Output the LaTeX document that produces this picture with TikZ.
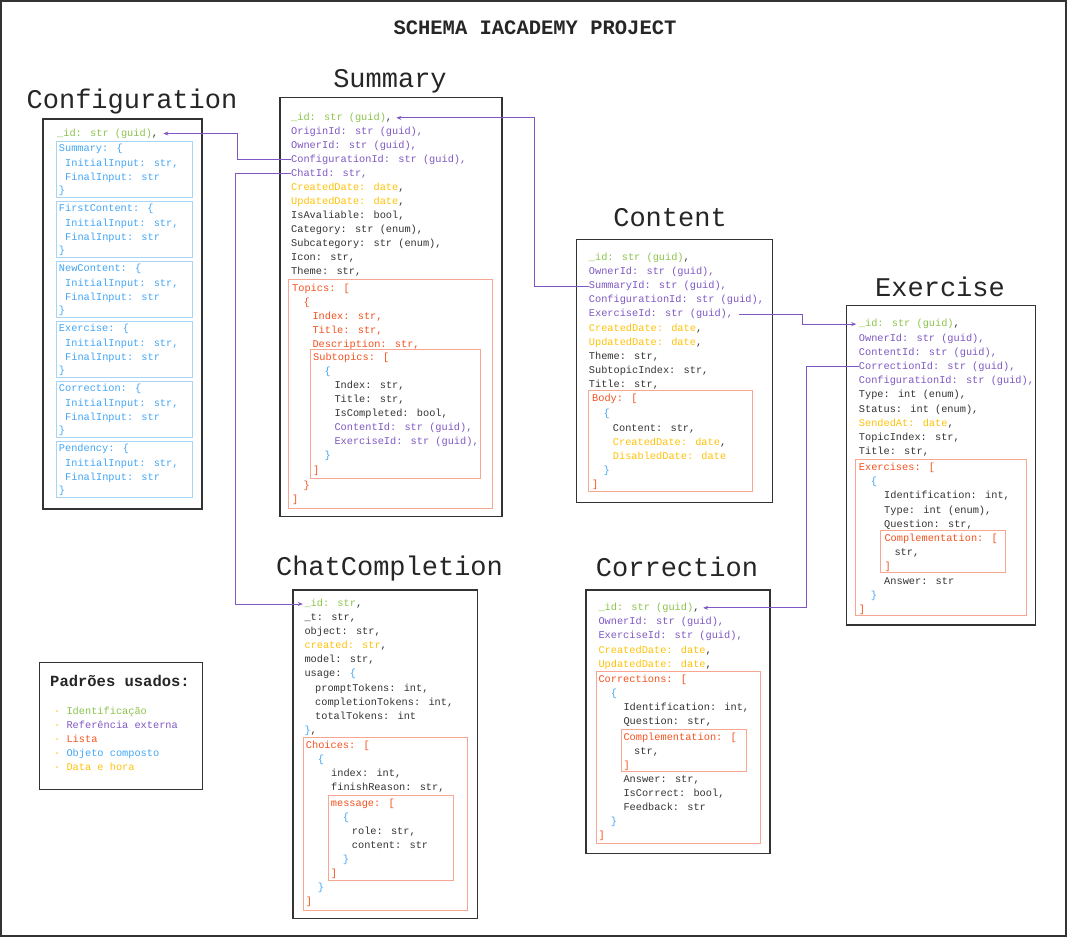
\documentclass[tikz,border=0pt]{standalone}
\usepackage{fontspec}
\newfontfamily\codefont{Liberation Mono}
\usetikzlibrary{arrows.meta}

\definecolor{idgreen}{HTML}{8BC34A}
\definecolor{refpurple}{HTML}{7E57C2}
\definecolor{lstred}{HTML}{F4511E}
\definecolor{lstbox}{HTML}{F8A592}
\definecolor{objblue}{HTML}{42A5F5}
\definecolor{objbox}{HTML}{A8D4F5}
\definecolor{dtyellow}{HTML}{FFC107}
\definecolor{txtgrey}{HTML}{333333}
\definecolor{framegrey}{HTML}{333333}

\newcommand{\gid}[1]{\textcolor{idgreen}{#1}}
\newcommand{\ydate}[1]{\textcolor{dtyellow}{#1}}
\newcommand{\bobj}[1]{\textcolor{objblue}{#1}}

\tikzset{
  fld/.style={anchor=base west, inner sep=0pt, yshift=-3.5pt, text=txtgrey,
    font=\codefont\fontsize{10.3}{14}\selectfont},
  ref/.style={fld, text=refpurple},
  lst/.style={fld, text=lstred},
  obj/.style={fld, text=objblue},
  ttl/.style={anchor=base, inner sep=0pt, text=black!85,
    font=\codefont\fontsize{27}{30}\selectfont},
  entity/.style={draw=framegrey, line width=1.1pt},
  lstframe/.style={draw=lstbox, line width=0.9pt},
  objframe/.style={draw=objbox, line width=0.9pt},
  refline/.style={draw=refpurple, line width=0.7pt, -{Stealth[length=5pt,width=4pt]}},
}

\begin{document}
\begin{tikzpicture}[x=1pt,y=-1pt]
  \useasboundingbox (0,0) rectangle (1067,937);
  \draw[entity] (1,1) rectangle (1066,936);
  \node[anchor=base, inner sep=0pt, text=black!85,
    font=\codefont\bfseries\fontsize{20.5}{24}\selectfont] (header) at (535,34) {SCHEMA IACADEMY PROJECT};

  % Configuration
  \node[ttl] (cfg-title) at (132,108) {Configuration};
  \draw[entity] (43,119) rectangle (202,509);
  \node[fld] (cfg-id) at (57,132.7) {\gid{\_id: str (guid)},};

  \draw[objframe] (56,141.7) rectangle (192.3,197.3);
  \node[obj] (cfg-sum) at (58.7,148) {Summary: \{};
  \node[obj] (cfg-sum-in) at (65,162.5) {InitialInput: str,};
  \node[obj] (cfg-sum-out) at (65,176.5) {FinalInput: str};
  \node[obj] (cfg-sum-cb) at (58.7,190) {\}};

  \draw[objframe] (56,201.7) rectangle (192.3,257.3);
  \node[obj] (cfg-first) at (58.7,208) {FirstContent: \{};
  \node[obj] (cfg-first-in) at (65,222.5) {InitialInput: str,};
  \node[obj] (cfg-first-out) at (65,236.5) {FinalInput: str};
  \node[obj] (cfg-first-cb) at (58.7,250) {\}};

  \draw[objframe] (56,261.7) rectangle (192.3,317.3);
  \node[obj] (cfg-new) at (58.7,268) {NewContent: \{};
  \node[obj] (cfg-new-in) at (65,282.5) {InitialInput: str,};
  \node[obj] (cfg-new-out) at (65,296.5) {FinalInput: str};
  \node[obj] (cfg-new-cb) at (58.7,310) {\}};

  \draw[objframe] (56,321.7) rectangle (192.3,377.3);
  \node[obj] (cfg-exe) at (58.7,328) {Exercise: \{};
  \node[obj] (cfg-exe-in) at (65,342.5) {InitialInput: str,};
  \node[obj] (cfg-exe-out) at (65,356.5) {FinalInput: str};
  \node[obj] (cfg-exe-cb) at (58.7,370) {\}};

  \draw[objframe] (56,381.7) rectangle (192.3,437.3);
  \node[obj] (cfg-cor) at (58.7,388) {Correction: \{};
  \node[obj] (cfg-cor-in) at (65,402.5) {InitialInput: str,};
  \node[obj] (cfg-cor-out) at (65,416.5) {FinalInput: str};
  \node[obj] (cfg-cor-cb) at (58.7,430) {\}};

  \draw[objframe] (56,441.7) rectangle (192.3,497.3);
  \node[obj] (cfg-pend) at (58.7,448) {Pendency: \{};
  \node[obj] (cfg-pend-in) at (65,462.5) {InitialInput: str,};
  \node[obj] (cfg-pend-out) at (65,476.5) {FinalInput: str};
  \node[obj] (cfg-pend-cb) at (58.7,490) {\}};

  % Summary
  \node[ttl] (sum-title) at (390,87) {Summary};
  \draw[entity] (280,97.7) rectangle (502,516.7);
  \node[fld] (sum-id) at (291,117) {\gid{\_id: str (guid)},};
  \node[ref] (sum-origin) at (291,131) {OriginId: str (guid),};
  \node[ref] (sum-owner) at (291,145) {OwnerId: str (guid),};
  \node[ref] (sum-cfg) at (291,159) {ConfigurationId: str (guid),};
  \node[ref] (sum-chat) at (291,173) {ChatId: str,};
  \node[fld] (sum-created) at (291,187) {\ydate{CreatedDate: date},};
  \node[fld] (sum-updated) at (291,201) {\ydate{UpdatedDate: date},};
  \node[fld] (sum-avail) at (291,215) {IsAvaliable: bool,};
  \node[fld] (sum-cat) at (291,229) {Category: str (enum),};
  \node[fld] (sum-subcat) at (291,243) {Subcategory: str (enum),};
  \node[fld] (sum-icon) at (291,257) {Icon: str,};
  \node[fld] (sum-theme) at (291,271) {Theme: str,};
  \draw[lstframe] (288.3,279.3) rectangle (492.7,508);
  \node[lst] (sum-topics) at (292,288.3) {Topics: [};
  \node[lst] (sum-top-ob) at (303.3,301.7) {\{};
  \node[lst] (sum-t-index) at (312.3,316) {Index: str,};
  \node[lst] (sum-t-title) at (312.3,330) {Title: str,};
  \node[lst] (sum-t-desc) at (312.3,344) {Description: str,};
  \draw[lstframe] (310,349.7) rectangle (480,478.3);
  \node[lst] (sum-subtopics) at (313,357.3) {Subtopics: [};
  \node[obj] (sum-sub-ob) at (324.3,371) {\{};
  \node[fld] (sum-s-index) at (334.3,385.3) {Index: str,};
  \node[fld] (sum-s-title) at (334.3,399.3) {Title: str,};
  \node[fld] (sum-s-done) at (334.3,413.3) {IsCompleted: bool,};
  \node[ref] (sum-s-content) at (334.3,427.3) {ContentId: str (guid),};
  \node[ref] (sum-s-exe) at (334.3,441.3) {ExerciseId: str (guid),};
  \node[obj] (sum-sub-cb) at (324.3,455.3) {\}};
  \node[lst] (sum-sub-end) at (313,469.5) {]};
  \node[lst] (sum-top-cb) at (303.3,485) {\}};
  \node[lst] (sum-top-end) at (292,499) {]};

  % Content
  \node[ttl] (con-title) at (670,226) {Content};
  \draw[entity] (576.7,239.7) rectangle (772.7,502.7);
  \node[fld] (con-id) at (588.7,257.3) {\gid{\_id: str (guid)},};
  \node[ref] (con-owner) at (588.7,271.3) {OwnerId: str (guid),};
  \node[ref] (con-sum) at (588.7,285.3) {SummaryId: str (guid),};
  \node[ref] (con-cfg) at (588.7,299.3) {ConfigurationId: str (guid),};
  \node[ref] (con-exe) at (588.7,313.3) {ExerciseId: str (guid),};
  \node[fld] (con-created) at (588.7,327.7) {\ydate{CreatedDate: date},};
  \node[fld] (con-updated) at (588.7,341.7) {\ydate{UpdatedDate: date},};
  \node[fld] (con-theme) at (588.7,355.7) {Theme: str,};
  \node[fld] (con-subidx) at (588.7,369.7) {SubtopicIndex: str,};
  \node[fld] (con-ttl) at (588.7,383.7) {Title: str,};
  \draw[lstframe] (588.3,390.7) rectangle (752.3,491.7);
  \node[lst] (con-body) at (592,398.3) {Body: [};
  \node[obj] (con-body-ob) at (603.3,413) {\{};
  \node[fld] (con-b-content) at (612.7,427.7) {Content: str,};
  \node[fld] (con-b-created) at (612.7,441.7) {\ydate{CreatedDate: date},};
  \node[fld] (con-b-disabled) at (612.7,455.7) {\ydate{DisabledDate: date}};
  \node[obj] (con-body-cb) at (603.3,469.7) {\}};
  \node[lst] (con-body-end) at (592,483.7) {]};

  % Exercise
  \node[ttl] (exe-title) at (940,296) {Exercise};
  \draw[entity] (846.7,305.3) rectangle (1035.3,625);
  \node[fld] (exe-id) at (858.7,323.3) {\gid{\_id: str (guid)},};
  \node[ref] (exe-owner) at (858.7,337.7) {OwnerId: str (guid),};
  \node[ref] (exe-content) at (858.7,351.7) {ContentId: str (guid),};
  \node[ref] (exe-cor) at (858.7,365.7) {CorrectionId: str (guid),};
  \node[ref] (exe-cfg) at (858.7,380) {ConfigurationId: str (guid),};
  \node[fld] (exe-type) at (858.7,394) {Type: int (enum),};
  \node[fld] (exe-status) at (858.7,408.7) {Status: int (enum),};
  \node[fld] (exe-sended) at (858.7,423) {\ydate{SendedAt: date},};
  \node[fld] (exe-topic) at (858.7,437) {TopicIndex: str,};
  \node[fld] (exe-ttl) at (858.7,451) {Title: str,};
  \draw[lstframe] (855.3,459.3) rectangle (1026.3,615);
  \node[lst] (exe-list) at (858.7,466.7) {Exercises: [};
  \node[obj] (exe-list-ob) at (870.7,481) {\{};
  \node[fld] (exe-ident) at (884,495.3) {Identification: int,};
  \node[fld] (exe-qtype) at (884,509.7) {Type: int (enum),};
  \node[fld] (exe-question) at (884,523.7) {Question: str,};
  \draw[lstframe] (880.3,530.3) rectangle (1005.3,572.7);
  \node[lst] (exe-compl) at (884.3,538) {Complementation: [};
  \node[fld] (exe-c-str) at (894.3,552) {str,};
  \node[lst] (exe-c-end) at (884.3,566) {]};
  \node[fld] (exe-answer) at (884,580.7) {Answer: str};
  \node[obj] (exe-list-cb) at (870.7,594.7) {\}};
  \node[lst] (exe-list-end) at (858.7,608.7) {]};

  % ChatCompletion
  \node[ttl] (chat-title) at (389.5,575) {ChatCompletion};
  \draw[entity] (293,590) rectangle (477.3,918.5);
  \node[fld] (chat-id) at (304.3,603.3) {\gid{\_id: str},};
  \node[fld] (chat-t) at (304.3,617.3) {\_t: str,};
  \node[fld] (chat-object) at (304.3,631.3) {object: str,};
  \node[fld] (chat-created) at (304.3,645.3) {\ydate{created: str},};
  \node[fld] (chat-model) at (304.3,659.3) {model: str,};
  \node[fld] (chat-usage) at (304.3,673.3) {usage: \bobj{\{}};
  \node[fld] (chat-prompt) at (315,687.7) {promptTokens: int,};
  \node[fld] (chat-compl) at (315,701.7) {completionTokens: int,};
  \node[fld] (chat-total) at (315,715.7) {totalTokens: int};
  \node[fld] (chat-usage-cb) at (304.3,729.7) {\bobj{\}},};
  \draw[lstframe] (303.3,737.3) rectangle (467.7,910.3);
  \node[lst] (chat-choices) at (305.7,744.7) {Choices: [};
  \node[obj] (chat-ch-ob) at (317.7,758.7) {\{};
  \node[fld] (chat-index) at (331,773.3) {index: int,};
  \node[fld] (chat-finish) at (331,787.3) {finishReason: str,};
  \draw[lstframe] (328.7,795.7) rectangle (453.3,880.3);
  \node[lst] (chat-msg) at (330.7,802.7) {message: [};
  \node[obj] (chat-msg-ob) at (342.7,816.7) {\{};
  \node[fld] (chat-role) at (351.7,831) {role: str,};
  \node[fld] (chat-content) at (351.7,845) {content: str};
  \node[obj] (chat-msg-cb) at (342.7,859) {\}};
  \node[lst] (chat-msg-end) at (330.7,873) {]};
  \node[obj] (chat-ch-cb) at (317.7,887) {\}};
  \node[lst] (chat-ch-end) at (305.7,901) {]};

  % Correction
  \node[ttl] (cor-title) at (677,576) {Correction};
  \draw[entity] (586,590) rectangle (770,853.7);
  \node[fld] (cor-id) at (598.3,607) {\gid{\_id: str (guid)},};
  \node[ref] (cor-owner) at (598.3,621) {OwnerId: str (guid),};
  \node[ref] (cor-exe) at (598.3,635) {ExerciseId: str (guid),};
  \node[fld] (cor-created) at (598.3,649.7) {\ydate{CreatedDate: date},};
  \node[fld] (cor-updated) at (598.3,664) {\ydate{UpdatedDate: date},};
  \draw[lstframe] (596.7,671) rectangle (760,843.3);
  \node[lst] (cor-list) at (598.3,678.7) {Corrections: [};
  \node[obj] (cor-list-ob) at (610.7,692.7) {\{};
  \node[fld] (cor-ident) at (623.3,707) {Identification: int,};
  \node[fld] (cor-question) at (623.3,721) {Question: str,};
  \draw[lstframe] (621,729.3) rectangle (746,771);
  \node[lst] (cor-compl) at (623.3,736.7) {Complementation: [};
  \node[fld] (cor-c-str) at (634,750.7) {str,};
  \node[lst] (cor-c-end) at (623.3,764.7) {]};
  \node[fld] (cor-answer) at (623.3,778.7) {Answer: str,};
  \node[fld] (cor-correct) at (623.3,792.7) {IsCorrect: bool,};
  \node[fld] (cor-feedback) at (623.3,806.7) {Feedback: str};
  \node[obj] (cor-list-cb) at (610.7,820.7) {\}};
  \node[lst] (cor-list-end) at (598.3,834.7) {]};

  % legend
  \draw[entity] (39.3,662.3) rectangle (202.3,789.3);
  \node[inner sep=0pt, text=black!85,
    font=\codefont\bfseries\fontsize{15.5}{18}\selectfont] (leg-title) at (120,681) {Padrões usados:};
  \node[fld] (leg-id) at (54,710.7) {\ydate{·} \gid{Identificação}};
  \node[fld] (leg-ref) at (54,724.7) {\ydate{·} \textcolor{refpurple}{Referência externa}};
  \node[fld] (leg-lst) at (54,738.7) {\ydate{·} \textcolor{lstred}{Lista}};
  \node[fld] (leg-obj) at (54,752.7) {\ydate{·} \bobj{Objeto composto}};
  \node[fld] (leg-dt) at (54,766.7) {\ydate{·} \ydate{Data e hora}};

  % references
  \draw[refline, shorten >=5pt] (sum-cfg.west) -- ++(-54,0) |- (cfg-id.east);
  \draw[refline, shorten >=1.5pt] (sum-chat.west) -- ++(-56,0) |- (chat-id.west);
  \draw[refline, shorten >=4pt] (con-sum.west) -- ++(-54,0) |- (sum-id.east);
  \draw[refline, shorten <=6pt, shorten >=2.5pt] (con-exe.east) -- ++(69,0) |- (exe-id.west);
  \draw[refline, shorten >=3.5pt] (exe-cor.west) -- ++(-52,0) |- (cor-id.east);
\end{tikzpicture}
\end{document}
